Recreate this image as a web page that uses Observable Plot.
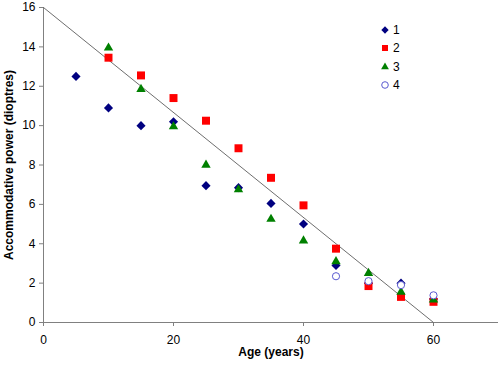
<!DOCTYPE html>
<html>
<head>
<meta charset="utf-8">
<script src="https://cdn.jsdelivr.net/npm/d3@7"></script>
<script src="https://cdn.jsdelivr.net/npm/@observablehq/plot@0.6"></script>
<style>
  body { margin: 0; background: #fff; }
  #wrap { position: relative; width: 500px; height: 368px; font-family: Arial, "Liberation Sans", sans-serif; }
  #legend { position: absolute; left: 378px; top: 21px; font-size: 12px; color: #000; }
  #legend .row { display: flex; align-items: center; height: 18.3px; }
  #legend svg { width: 14px; height: 14px; margin-right: 1px; }
</style>
</head>
<body>
<div id="wrap"><div id="legend"></div></div>
<script>
// Data
const seriesNames = ["1", "2", "3", "4"];
const ages1 = [5, 10, 15, 20, 25, 30, 35, 40, 45, 50, 55, 60];
const power1 = [12.5, 10.9, 10.0, 10.2, 6.95, 6.85, 6.05, 5.0, 2.9, 2.0, 2.0, 1.2];
const ages2 = [10, 15, 20, 25, 30, 35, 40, 45, 50, 55, 60];
const power2 = [13.45, 12.55, 11.4, 10.25, 8.85, 7.35, 5.95, 3.75, 1.85, 1.3, 1.05];
const ages3 = [10, 15, 20, 25, 30, 35, 40, 45, 50, 55, 60];
const power3 = [13.95, 11.85, 9.95, 8.0, 6.75, 5.25, 4.15, 3.1, 2.5, 1.55, 1.15];
const ages4 = [45, 50, 55, 60];
const power4 = [2.35, 2.1, 1.9, 1.38];
const trendAges = [0, 60];
const trendPower = [16, 0];
const xTicks = [0, 20, 40, 60];
const yTicks = [0, 2, 4, 6, 8, 10, 12, 14, 16];
const xLabel = "Age (years)";
const yLabel = "Accommodative power (dioptres)";

const zip = (xs, ys) => xs.map((x, i) => ({x, y: ys[i]}));
const s1 = zip(ages1, power1), s2 = zip(ages2, power2), s3 = zip(ages3, power3), s4 = zip(ages4, power4);
const trend = zip(trendAges, trendPower);

const styles = [
  {symbol: "diamond2", fill: "#000080", stroke: "none", r: 4.1, lr: 3.3},
  {symbol: "square", fill: "#ff0000", stroke: "none", r: 4.5, lr: 3.4},
  {symbol: "triangle", fill: "#008000", stroke: "none", r: 3.5, lr: 2.9},
  {symbol: "circle", fill: "white", stroke: "#5a5ad0", r: 3.6, lr: 3.3}
];

const font = "Arial, 'Liberation Sans', sans-serif";
const chart = Plot.plot({
  width: 500,
  height: 368,
  marginLeft: 43,
  marginRight: 2,
  marginTop: 7,
  marginBottom: 46,
  style: {fontFamily: font, fontSize: "12px", background: "white"},
  x: {domain: [0, 70]},
  y: {domain: [0, 16]},
  marks: [
    Plot.axisX({ticks: xTicks, tickSize: 4, tickPadding: 9, stroke: "#808080", fill: "black", label: null, fontSize: 12}),
    Plot.axisY({ticks: yTicks, tickSize: 4, tickPadding: 4, stroke: "#808080", fill: "black", label: null, fontSize: 12}),
    Plot.ruleX([0], {stroke: "#808080"}),
    Plot.ruleY([0], {stroke: "#808080"}),
    Plot.line(trend, {x: "x", y: "y", stroke: "#6e6e6e", strokeWidth: 1}),
    ...[s1, s2, s3, s4].map((s, i) => Plot.dot(s, {x: "x", y: "y", symbol: () => styles[i].symbol, r: styles[i].r, fill: styles[i].fill, stroke: styles[i].stroke, strokeWidth: 1})),
    Plot.text([xLabel], {frameAnchor: "bottom", dy: 30, text: d => d, fontWeight: "bold", fontSize: 12, lineAnchor: "middle", textAnchor: "middle", fill: "black"}),
    Plot.text([yLabel], {frameAnchor: "left", dx: -34, rotate: -90, text: d => d, fontWeight: "bold", fontSize: 12, lineAnchor: "middle", textAnchor: "middle", fill: "black"})
  ]
});
document.getElementById("wrap").prepend(chart);

// Legend
const legend = d3.select("#legend");
const symMap = {diamond2: d3.symbolDiamond2, square: d3.symbolSquare, triangle: d3.symbolTriangle, circle: d3.symbolCircle};
seriesNames.forEach((name, i) => {
  const st = styles[i];
  const row = legend.append("div").attr("class", "row");
  const svg = row.append("svg").attr("viewBox", "-7 -7 14 14");
  svg.append("path")
    .attr("d", d3.symbol(symMap[st.symbol], Math.PI * st.lr * st.lr)())
    .attr("fill", st.fill)
    .attr("stroke", st.stroke)
    .attr("stroke-width", 1);
  row.append("span").text(name);
});
</script>
</body>
</html>
